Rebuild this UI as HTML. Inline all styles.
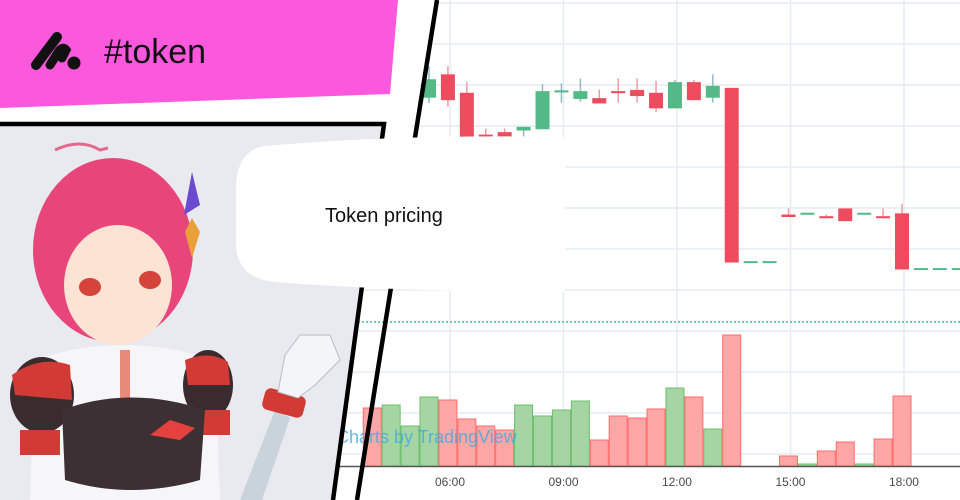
<!DOCTYPE html>
<html><head><meta charset="utf-8"><style>
html,body{margin:0;padding:0;background:#fff;}
#root{position:relative;width:960px;height:500px;overflow:hidden;font-family:"Liberation Sans",sans-serif;}
svg{position:absolute;left:0;top:0;}
</style></head><body>
<div id="root">
<svg id="chart" width="960" height="500"></svg>
<svg id="deco" width="960" height="500">
  <polygon points="0,0 437,0 408,140 0,140" fill="#fff"/>
  <polygon points="0,0 398,0 390,94 0,108" fill="#fb58de"/>
  <g>
    <line x1="36" y1="65" x2="57" y2="37" stroke="#111" stroke-width="10" stroke-linecap="round"/>
    <path d="M50,65 L59,51 Q63,46 66,50 L62,58" stroke="#111" stroke-width="9" fill="none" stroke-linecap="round"/>
    <circle cx="74" cy="63" r="6.5" fill="#111"/>
  </g>
  <text x="104" y="63" font-family="Liberation Sans, sans-serif" font-size="34" fill="#111">#token</text>
  <polygon points="0,124 384,124 333,500 0,500" fill="#e9eaf0"/>
  <polyline points="0,124 384,124 333,500" fill="none" stroke="#000" stroke-width="4.5"/>
  <line x1="437" y1="0" x2="357" y2="500" stroke="#000" stroke-width="4.5"/>
  <g>
    <path d="M55,150 Q80,138 100,150 L108,148" stroke="#e06a8c" stroke-width="3" fill="none"/>
    <ellipse cx="113" cy="250" rx="80" ry="92" fill="#e8457a"/>
    <ellipse cx="118" cy="285" rx="54" ry="60" fill="#fce3d3"/>
    <path d="M62,240 Q110,190 172,240 L172,215 Q110,170 58,215 Z" fill="#e8457a"/>
    <ellipse cx="90" cy="287" rx="11" ry="9" fill="#d6433a"/>
    <ellipse cx="150" cy="280" rx="11" ry="9" fill="#d6433a"/>
    <polygon points="192,172 200,205 184,215" fill="#6a4bd0"/>
    <polygon points="192,218 200,232 192,258 185,232" fill="#e9a03a"/>
    <path d="M30,500 L35,360 Q120,330 215,360 L220,500 Z" fill="#f6f6f9"/>
    <rect x="120" y="350" width="10" height="75" fill="#e88a7a"/>
    <ellipse cx="42" cy="395" rx="32" ry="38" fill="#3a2b2f"/>
    <path d="M12,375 Q40,355 70,365 L72,400 L15,395 Z" fill="#d23a35"/>
    <ellipse cx="208" cy="385" rx="25" ry="35" fill="#3a2b2f"/>
    <path d="M185,360 Q210,350 228,362 L230,385 L188,385 Z" fill="#d23a35"/>
    <rect x="20" y="430" width="40" height="25" fill="#d23a35"/>
    <rect x="200" y="410" width="30" height="25" fill="#d23a35"/>
    <path d="M62,410 Q130,385 205,410 L200,480 Q130,500 65,480 Z" fill="#3d3035"/>
    <path d="M150,435 L170,420 L195,428 L180,440 Z" fill="#e5413f"/>
    <path d="M240,500 L275,410 L290,418 L262,500 Z" fill="#c9d3dc"/>
    <rect x="263" y="392" width="42" height="22" rx="6" fill="#d23a35" transform="rotate(15 284 403)"/>
    <path d="M278,392 L285,355 L300,335 L330,335 L340,360 L315,385 L298,398 Z" fill="#f4f5f8" stroke="#b8bcc8" stroke-width="1"/>
  </g>
  <path d="M265,146 Q400,134 565,137 L565,292 Q400,292 275,282 Q237,278 236,245 L236,185 Q238,150 265,146 Z" fill="#fff"/>
  <text x="325" y="222" font-family="Liberation Sans, sans-serif" font-size="20" fill="#111">Token pricing</text>
</svg>
</div>
<script>
const opens=[96.9,102.6,98.1,87.9,88.5,88.9,89.2,98.2,96.6,96.8,98.5,98.8,98.1,94.3,100.7,96.9,99.3,56.8,56.8,68.4,68.6,68.0,69.9,68.6,68.0,68.7,55.1,55.1,55.1];
const closes=[101.4,96.3,87.3,86.6,86.6,89.8,98.5,98.7,98.5,95.5,98.0,97.3,94.3,100.7,96.3,99.8,56.7,56.8,56.8,67.8,68.6,67.5,66.8,68.6,67.5,55.0,55.1,55.1,55.1];
const highs=[104.5,104.6,100.7,89.4,89.4,89.8,100.2,100.4,101.6,98.9,101.6,101.6,101,101.2,101.2,102.6,99.3,56.8,56.8,69.9,68.6,68.4,69.9,68.6,69.9,71.0,55.1,55.1,55.1];
const lows=[95.6,94.7,87.3,86.3,86.1,85.4,89.2,95.7,95.9,95.5,95.7,95.7,93.4,94.3,96.3,95.7,56.7,56.8,56.8,67.8,68.6,67.5,66.8,68.6,67.5,55.0,55.1,55.1,55.1];
const volStart=-3;
const volumes=[58,61,40,69,66,47,40,36,61,50,56,65,26,50,48,57,78,69,37,131,0,0,10,2,15,24,2,27,70];
const volUp=[0,1,1,1,0,0,0,0,1,1,1,1,0,0,0,0,1,0,1,0,1,1,0,1,0,0,1,0,0];
const tickLabels=["06:00","09:00","12:00","15:00","18:00"];
const tickHours=[6,9,12,15,18];
const lastPrice=42.2;

const NS="http://www.w3.org/2000/svg";
const svg=document.getElementById('chart');
function X(i){return 429+i*18.92;}
function XH(h){return 450+(h-6)*37.83;}
function Y(p){return 85+(100-p)*4.1;}
function VY(v){return 466-v;}
function mk(t,a){const e=document.createElementNS(NS,t);for(const k in a)e.setAttribute(k,a[k]);svg.appendChild(e);return e;}

for(let k=-2;k<=9;k++){const y=85+k*41;const g=mk('line',{x1:330,x2:960,y1:y,y2:y,stroke:'#e4ebf2','stroke-width':1.5});

}
tickHours.forEach((h,i)=>{const g=mk('line',{x1:XH(h),x2:XH(h),y1:0,y2:466,stroke:'#e4ebf2','stroke-width':1.5});


const t=mk('text',{x:XH(h),y:486,'text-anchor':'middle','font-size':12,fill:'#4a4a4a','font-family':'Liberation Sans, sans-serif'});
t.textContent=tickLabels[i];

});

volumes.forEach((v,j)=>{if(v<=0)return;const i=j+volStart;const up=volUp[j];
const r=mk('rect',{x:X(i)-9,y:VY(v),width:18,height:v,fill:up?'#a6d5a4':'#ffa6a6',stroke:up?'#6cbf6c':'#ff6b6b','stroke-width':1});

});

const wm=mk('text',{x:336,y:443,'font-size':18,fill:'#3fa9e0','fill-opacity':0.8,'font-family':'Liberation Sans, sans-serif'});
wm.textContent='Charts by TradingView';



const pl=mk('line',{x1:330,x2:960,y1:Y(lastPrice),y2:Y(lastPrice),stroke:'#3fbf86','stroke-width':1.5,'stroke-dasharray':'2 2'});



opens.forEach((o,i)=>{const c=closes[i],h=highs[i],l=lows[i];const x=X(i);const up=c>=o;
if(h===l){const d=mk('line',{x1:x-7,x2:x+7,y1:Y(c),y2:Y(c),stroke:'#53b987','stroke-width':2});

return;}
const w=mk('line',{x1:x,x2:x,y1:Y(h),y2:Y(l),stroke:up?'#8fbcc6':'#f29aa5','stroke-width':1.5});


const top=Y(Math.max(o,c)),bh=Math.max(2,Y(Math.min(o,c))-top);
const b=mk('rect',{x:x-7,y:top,width:14,height:bh,fill:up?'#53b987':'#ec4c5d'});

});

const ax=mk('line',{x1:330,x2:960,y1:466.5,y2:466.5,stroke:'#555','stroke-width':1.5});


</script>
</body></html>
